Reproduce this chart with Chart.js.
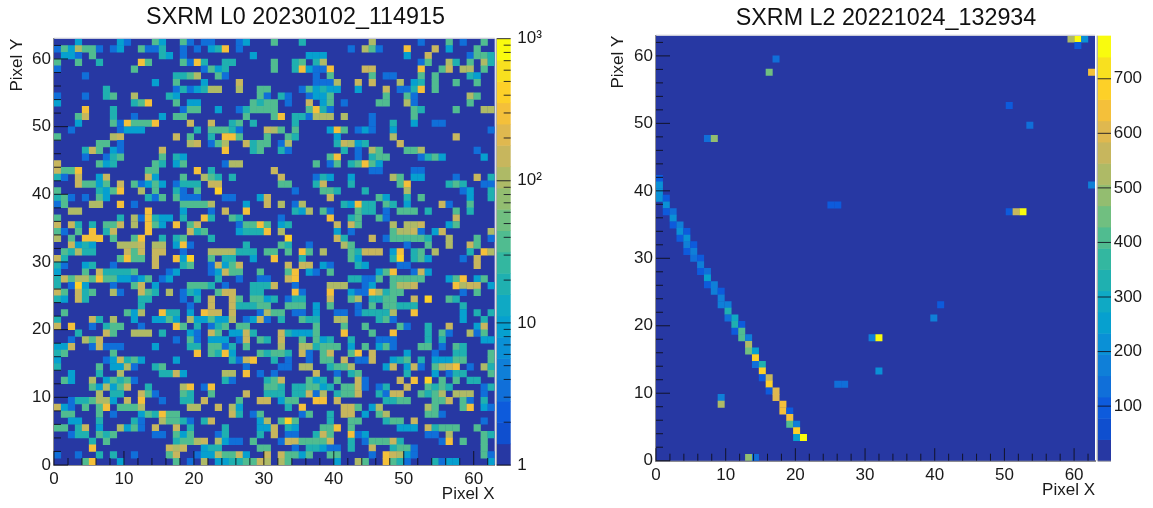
<!DOCTYPE html>
<html>
<head>
<meta charset="utf-8">
<title>SXRM</title>
<script src="https://cdn.jsdelivr.net/npm/chart.js@4"></script>
<style>
html, body { margin: 0; padding: 0; background: #fff; overflow: hidden; width: 1153px; height: 508px; }
.box { position: absolute; top: 0; height: 508px; }
canvas { filter: blur(0.35px); }
</style>
</head>
<body>
<div class="box" style="left:0;width:591px"><canvas id="chart-l0"></canvas></div>
<div class="box" style="left:600px;width:572px"><canvas id="chart-l2"></canvas></div>
<script>
const palette = ["#2738a3", "#0f4fcf", "#0d5bdc", "#106fd9", "#0f7fd8", "#0a90d6", "#06a0cf", "#0fa9c4", "#1fb0b0", "#33b7a0",
    "#50bc90", "#70bf80", "#93bd70", "#aeba66", "#c7b65d", "#dfb84f", "#f4c03a", "#fdd028", "#f8e01f", "#f9fb0e"];

const axisTicks = [0, 10, 20, 30, 40, 50, 60];
const axisMinorTicks = [2, 4, 6, 8, 12, 14, 16, 18, 22, 24, 26, 28, 32, 34, 36, 38, 42, 44, 46, 48, 52, 54, 56, 58, 62];

const l0BarTicks = [1, 10, 100, 1000];
const l0BarLabels = ["1", "10", "10²", "10³"];
const l0BarMinor = [2, 3, 4, 5, 6, 7, 8, 9, 20, 30, 40, 50, 60, 70, 80, 90, 200, 300, 400, 500, 600, 700, 800, 900];
const l2BarTicks = [100, 200, 300, 400, 500, 600, 700];
const l2Max = 779;

// counts, one letter per colour group
const l0Counts = { b: 3, c: 9, t: 20, g: 40, o: 90, a: 160, y: 320, Y: 450 };

// L0 rows from Pixel Y 62 down to 0, each token is column + colour group
const l0Rows = [
    "3c 9c 10b 14g 15c 18g 19b 21b 22b 26b 27c 31g 35t 45o 52b 56g 58b 61g",
    "0b 1g 2c 3o 4g 5g 6b 8b 9c 12g 13b 14b 15t 18b 20b 22c 23t 24y 26b 42b 44o 45g 46b 50y 54a 56c 60g",
    "1c 2c 3b 5g 15t 16c 18b 28c 36c 37c 38c 50c 53a 59b 60g 61g 62t",
    "0g 3g 6t 12y 13g 18g 19b 20y 21t 24t 25t 31g 34t 35g 37t 38o 52b 53g 56o 57t 59g 61o 62t",
    "0b 11g 21b 22g 23c 24t 31g 34t 35y 36c 37b 38b 39y 44a 45a 52y 55g 56a 58o 59o 61g",
    "4b 17t 18t 19g 20o 23g 24b 37b 39g 45g 47b 48b 52g 54g 59t 60c",
    "14c 17g 21c 26a 37b 38b 39b 40o 43a 45a 49o 51c 52t 54g 57g 60g",
    "7t 17b 18t 19b 20c 21t 22o 23o 26o 29g 30g 35b 36g 37c 38t 39c 40c 43c 47a 49b 50b 51t 52y 54g",
    "0b 4b 7t 8g 11o 16t 17c 29g 30b 32t 33b 36b 37c 38c 39g 47g 50g 51b 59o 60g",
    "0c 11t 12g 13y 17g 19c 20c 28g 29t 30g 31g 33b 36a 38c 39g 41b 46g 47g 50o 51b 59g",
    "4y 8t 18b 19g 20g 23c 26b 27t 28g 29g 30g 31g 36g 37y 38t 39b 51g 52t 57g 61o 62o",
    "3g 4a 8t 11b 15c 17g 18g 27g 31g 32y 34t 35t 36b 37o 38o 39o 41o 45b 51g",
    "3c 8g 9b 10y 11g 12g 13g 14y 19a 22a 25t 26g 28t 34t 45b 48t 51c 54b 55b",
    "2b 9b 10c 11c 12c 20t 22g 23g 24g 25t 26b 30a 31o 32g 34g 39c 40y 41g 43b 44c 45b 48c 62b",
    "0g 8o 9a 17a 19g 22t 24y 25y 26g 30g 33g 34t 40c 48o 57a",
    "6g 7g 9b 19o 20a 22b 23g 24o 27a 28t 29g 30g 32b 33o 40t 41a 42o 43c 44t 49a",
    "4t 5a 6g 8c 9b 15a 24y 28t 29g 32t 33b 41t 43b 45o 46g 50g 51g 52o 60b",
    "4b 7b 8t 9g 15g 17t 18c 39g 40y 43b 45t 46g 47g 52b 53t 54g 55c 61c",
    "0a 6g 7c 8t 14g 15t 17c 18g 24b 25o 26o 37g 39b 40g 42t 43g 44y 45g 46c",
    "0a 1g 2g 3y 13g 14g 20y 22t 31a 45b 46b 51b 52b",
    "0t 1b 3a 6c 7a 13a 14c 18g 21o 22g 23t 25t 32a 37b 38t 39c 42c 48o 49g 51c 52c 57b 60a 62t",
    "3a 4g 5g 6c 7g 9a 11g 12b 13c 14g 15c 17b 18t 19t 20t 22a 23a 32g 33g 37t 38a 42t 49g 50y 56t 57g 58t 61b 62b",
    "0g 6t 7c 8g 9y 12o 14g 17t 18b 20g 23Y 34b 38g 39g 40t 44t 50o 58b 59c 62t",
    "0t 1g 2b 4b 6g 7c 13t 14b 15g 17g 18b 19b 20b 24b 25b 29c 30a 39a 46g 47c 50t 52g 59c 62t",
    "0b 1g 5o 6o 9y 11b 18g 19g 20g 21g 22o 27c 30a 32o 34b 35o 41t 42c 43y 44t 45t 47g 48t 50c 55a 56b 59g",
    "2o 3o 13y 18c 22b 24a 27y 34t 35c 36o 38g 39b 43g 44t 45t 47b 49g 50g 51g 53t 57g 59t",
    "0g 9t 11o 12b 13y 14t 15c 16c 18t 21y 22t 25g 26t 32b 39y 42t 43g 46g 47b 57a",
    "0a 2a 3t 5t 7g 8g 9a 11o 13y 14g 15c 17y 19g 20a 26b 27g 28g 29y 30g 32c 33t 40a 42a 43g 48o 50o 51o 52a 56c 57g",
    "0g 1b 3g 5y 7t 8a 13y 19a 20t 21g 26c 27t 28t 29t 30y 32o 40c 42b 48g 49o 50o 51a 52b 54c 55a 62o",
    "0o 2g 4y 5y 6y 8g 11g 12y 15t 17t 18g 22t 33Y 40a 41t 45a 47b 48g 49g 50g 51g 52g 53t 56o 60g 62b",
    "2a 3c 4t 5c 9o 10o 11o 12a 14o 15o 17c 18y 19b 27t 32g 33t 36b 41o 42g 50b 53g 56o 59a 60g",
    "1g 2t 3o 4t 5t 10a 11g 12a 14a 15a 18b 22o 23o 24o 25o 26t 27t 28t 30g 31g 33g 35y 36g 38o 42g 43t 44a 45a 46a 48c 49y 51t 52g 54o 59t 61y 62o",
    "0a 1t 9g 10y 11g 12g 14a 17y 18c 19Y 22g 24t 25t 28c 31y 35t 42g 43c 48t 49Y 51t 52g 53c 58b 60a",
    "0t 1b 4c 5t 8b 14a 18t 19g 22b 23a 24c 25g 26a 33a 35a 36a 38c 39b 43t 44c 49b 50b 60a",
    "0c 4g 6a 7t 8t 9t 10t 11g 16b 17c 22b 23c 24a 25g 26g 29g 33g 34y 36c 37b 39g 46c 47g 48y 51b 52a 53c",
    "0t 1a 2g 3o 4o 5g 6y 7g 8g 9c 10c 11b 12c 13g 15b 16c 23t 26b 29b 30b 33a 34y 42t 43t 44b 45b 46g 48g 49g 50g 51g 52g 56c 57g 58y 60c 61g",
    "0t 2b 3Y 4c 8b 11g 12a 14c 19g 20g 21g 22t 24b 28t 29t 30t 31a 34b 39o 40o 41o 44b 45c 48g 49o 50o 51a 57y 58o 59a 60a 62c",
    "0a 1g 3a 4t 5g 8o 9b 12a 13g 14t 16o 18b 19t 20c 23g 24a 25a 28t 29t 34y 35b 39y 42c 43b 44b 45y 46o 47t 48g 49g 58b 60g",
    "0t 1c 3a 4t 12t 13t 18b 20t 22a 25a 26g 28g 29g 30c 31t 33b 34t 35t 39a 42g 43o 45t 46t 47g 48g 51a 53Y 56g 57t",
    "12t 19b 22a 25a 26t 27t 28t 29g 30g 33g 34g 35g 37c 39g 43b 45g 47g 48g 49t 50t 51t 58t",
    "1g 10g 11c 12o 15y 16t 17t 19c 21y 22a 23a 25a 29b 30o 31g 32g 34b 35b 37c 40b 41b 43b 44t 45t 46t 47t 48o 51y 58c 60t 62t",
    "0t 5a 6t 8o 11c 14c 15c 16g 17c 19o 20c 21c 22g 23c 24c 25o 27b 28c 29a 30b 32t 35g 36t 37t 40o 41o 46t 47g 48b 58c 61t",
    "0a 2y 5b 7t 8g 9g 12b 17y 18g 20t 22b 23t 24g 26g 27g 37g 41g 44g 49g 50b 53t 56a 60c 61a",
    "3t 7a 8g 11o 12o 13o 15t 19c 20b 22a 23g 25c 26c 27a 28t 32a 33t 34c 35c 36c 37g 41y 45g 48y 53t 55g 56b 59o 60b 61g",
    "2b 4o 5g 6a 17b 19g 20b 22c 23c 24c 26b 27a 29g 30t 32a 35g 37g 38c 39t 42t 46b 47b 48b 53t 55t 61c 62c",
    "0c 1c 2a 5b 6a 7b 8b 9b 14c 19t 20t 22g 23g 24b 25t 27g 32o 35o 36o 37t 38g 39g 40g 42c 44g 46c 47g 48b 52g 53g 55b 57g 58t",
    "0t 1g 8g 20y 22g 23t 24y 25c 29g 30t 31g 32g 33t 35a 36b 38g 39a 42g 43y 45a 50c 54b 57t 58t 62g",
    "0c 7b 8c 9a 10t 11g 12c 17c 25t 26b 27a 28y 31t 33b 36b 38g 39g 41a 43b 44b 45a 48c 49t 50g 52t 54c 55c 56c 57g 58g 62g",
    "0t 6g 8c 9c 10o 11b 14t 15g 27b 32b 33b 35o 36o 39t 40g 41g 42o 47c 48a 50c 51a 52b 54g 55o 56a 57y 59b 61o 62t",
    "2c 6t 9o 15t 16t 17a 18c 24o 25o 27y 29b 31b 37a 40b 42t 43g 50t 54c 56b 57t 58t 62g",
    "1g 2c 5o 7c 8g 9t 10g 11b 24t 25b 30t 31g 32a 36g 37c 38t 40g 43a 44b 49a 51y 53Y 55g 57g 59t 60t",
    "5g 6c 7o 8c 9g 10a 13t 18o 19y 21b 22y 30g 31g 32t 34t 35t 36g 37g 38c 39t 41g 42g 43a 44b 46b 47t 50a 53g 54t 55g 56t 61b 62t",
    "6o 8t 9t 12a 13g 14b 18g 19t 22g 27a 30t 31t 32t 34t 35t 36a 37b 38o 40t 41g 42g 43a 46t 47b 48a 49a 52g 53t 54g 55o 57o 58o 59o 61b",
    "2b 3t 4t 5g 6o 7o 8c 10a 12y 15b 18t 19t 21a 26g 29a 30a 32c 33g 34g 37y 38y 40a 47t 48t 49g 50g 54g 55g 56a 58g 59b 61t",
    "0a 1c 2b 4g 6g 7y 9g 10g 11g 12o 19o 20o 23a 25o 26c 33t 35y 41a 42a 43g 45c 46o 53o 54g 58g 59y 61c 62b",
    "1g 2g 6g 8b 12c 13g 14t 15y 16g 17g 25a 26t 28b 29g 35b 36g 39t 41a 42a 44c 46g 47o 53g 54g 55b",
    "2c 3c 6t 11t 12b 15o 16g 17g 18t 19b 21t 22a 29c 30o 32g 33Y 34g 39t 42g 43g 47t 48g 49g 51a 61b",
    "0g 1g 3t 4a 6c 9o 10c 11g 12b 14a 17a 19t 24t 29c 30c 31a 33t 34c 38g 39g 40y 42g 49c 50c 51c 53a 54t 55g 56g 57g 60g",
    "2b 3t 4t 6g 7t 8g 14b 15b 17g 18c 19g 23b 24t 29t 31a 33b 34b 37t 38a 39g 42y 43b 44c 53b 54b 56o 61g 62t",
    "5t 7g 17t 18g 19g 20o 21a 23o 24c 25b 26b 28g 32b 33a 34a 35g 36g 37g 38g 39a 42t 44b 45g 46g 47g 48a 49t 55b 56y 58g 61g",
    "5y 16a 17o 18a 21c 22t 23t 29g 30g 34b 36t 37t 38c 39b 40b 42t 45a 48t 49g 50g 51b 61g",
    "0b 3b 6t 8t 11b 16g 17a 20b 21c 22c 23o 24g 25g 26a 27c 30a 32a 33g 34g 35c 36g 39g 40g 45b 47y 48a 49o 50c 51b 61g 62b",
    "4g 5y 9c 17g 19b 21o 23c 24c 25t 26t 27g 28g 29a 30o 32o 33g 40c 43o 44g 47y 48g 49t 50b 54t 55b 56c 57c 62c"
];

// L2 has 64 bins spread over the 0-63 axis
const l2BinX = [0, 0, 0, 0, 1, 1, 1, 2, 2, 2, 3, 3, 3, 4, 4, 4, 4, 5, 5, 5, 6, 6, 6, 7, 7, 7, 8, 8, 9, 9, 9, 10, 10, 10, 11, 11, 11, 12, 12, 12, 13, 13, 13,
    14, 14, 14, 15, 15, 15, 16, 16, 16, 17, 17, 18, 18, 19, 19, 19, 20, 20, 20, 21,
    9, 9, 26, 27, 31, 32, 32, 13, 14, 17, 16, 7, 8, 25, 26, 60, 61, 62, 61, 63, 51, 54, 63, 51, 52, 53, 41, 40];
const l2BinY = [42, 41, 40, 39, 39, 38, 37, 37, 36, 35, 35, 34, 33, 34, 33, 32, 31, 32, 31, 30, 30, 29, 28, 28, 27, 26, 26, 25, 25, 24, 23, 23, 22, 21, 21, 20, 19, 20, 19, 18, 18, 17, 16,
    16, 15, 14, 14, 13, 12, 12, 11, 10, 10, 9, 8, 7, 7, 6, 5, 5, 4, 3, 3,
    9, 8, 11, 11, 18, 18, 13, 0, 0, 60, 58, 48, 48, 38, 38, 63, 63, 63, 62, 58, 53, 50, 41, 37, 37, 37, 23, 21];
const l2Values = [90, 230, 230, 210, 100, 200, 110, 120, 220, 100, 170, 210, 110, 110, 210, 190, 110, 90, 180, 150, 90, 170, 110, 150, 270, 100, 170, 170, 90, 170, 170, 170, 330, 120, 280, 340, 80, 80, 410, 410, 170, 520, 430,
    260, 680, 150, 340, 680, 90, 570, 700, 80, 600, 610, 640, 640, 80, 650, 410, 170, 680, 240, 779,
    180, 530, 140, 140, 170, 770, 210, 490, 130, 150, 460, 150, 480, 100, 100, 530, 779, 210, 90, 660, 90, 120, 190, 90, 560, 779, 90, 170];

function l0Level(count) {
    return Math.min(19, Math.floor(Math.log10(count) * 20 / 3));
}

function l2Level(count) {
    return Math.min(19, Math.floor(count / (l2Max / 20)));
}

function l0Points() {
    const points = [];
    l0Rows.forEach((row, i) => {
        row.split(" ").forEach(token => {
            points.push({ x: parseInt(token) + 0.5, y: 62 - i + 0.5, v: l0Counts[token.slice(-1)] });
        });
    });
    return points;
}

function l2Points() {
    const bin = 63 / 64;
    return l2BinX.map((x, i) => ({ x: (x + 0.5) * bin, y: (l2BinY[i] + 0.5) * bin, v: l2Values[i] }));
}

const rootFrame = {
    id: "rootFrame",
    beforeDatasetsDraw(chart) {
        const a = chart.chartArea;
        chart.ctx.fillStyle = palette[0];
        chart.ctx.fillRect(a.left, a.top, a.right - a.left, a.bottom - a.top);
    },
    afterDraw(chart, args, opts) {
        const ctx = chart.ctx;
        const a = chart.chartArea;
        const xs = chart.scales.x;
        const ys = chart.scales.y;
        const bar = chart.scales.bar;

        // ROOT draws its tick marks on the inside of the frame
        ctx.strokeStyle = "rgba(15,15,30,0.9)";
        ctx.lineWidth = 1;
        ctx.beginPath();
        axisTicks.forEach(v => {
            ctx.moveTo(xs.getPixelForValue(v), a.bottom);
            ctx.lineTo(xs.getPixelForValue(v), a.bottom - opts.xTick);
            ctx.moveTo(a.left, ys.getPixelForValue(v));
            ctx.lineTo(a.left + 14, ys.getPixelForValue(v));
        });
        axisMinorTicks.forEach(v => {
            ctx.moveTo(xs.getPixelForValue(v), a.bottom);
            ctx.lineTo(xs.getPixelForValue(v), a.bottom - 7);
            ctx.moveTo(a.left, ys.getPixelForValue(v));
            ctx.lineTo(a.left + 7, ys.getPixelForValue(v));
        });
        ctx.stroke();

        ctx.fillStyle = "#d4d4d8";
        ctx.fillRect(a.left, a.top - 1, a.right - a.left, 1);

        // colour bar
        const left = a.right + opts.barGap;
        const width = opts.barWidth;
        opts.barEdges.forEach((edge, i) => {
            if (i === 0) return;
            const y0 = bar.getPixelForValue(opts.barEdges[i - 1]);
            const y1 = bar.getPixelForValue(edge);
            ctx.fillStyle = palette[i - 1];
            ctx.fillRect(left, y1, width, y0 - y1 + 0.5);
        });
        ctx.fillStyle = "#9a9aa0";
        ctx.fillRect(left - 1, a.top, 1, a.bottom - a.top);
        ctx.fillRect(left, a.bottom, width, 1);

        ctx.strokeStyle = "rgba(15,15,30,0.85)";
        ctx.beginPath();
        opts.barTicks.forEach(v => {
            ctx.moveTo(left + width, bar.getPixelForValue(v));
            ctx.lineTo(left, bar.getPixelForValue(v));
        });
        opts.barMinor.forEach(v => {
            ctx.moveTo(left + width, bar.getPixelForValue(v));
            ctx.lineTo(left + width - 7, bar.getPixelForValue(v));
        });
        ctx.stroke();
    }
};

function drawHeatmap(id, cfg) {
    const canvas = document.getElementById(id);
    canvas.width = cfg.width;
    canvas.height = 508;
    const textFont = { family: "'Liberation Sans', Arial, sans-serif", size: 17 };

    return new Chart(canvas.getContext("2d"), {
        type: "scatter",
        data: {
            datasets: [{
                label: cfg.title,
                data: cfg.points,
                pointStyle: "rect",
                pointRadius: cfg.pointRadius,
                pointBorderWidth: 0,
                pointBackgroundColor: c => palette[cfg.level(c.raw.v)]
            }]
        },
        plugins: [rootFrame],
        options: {
            responsive: false,
            animation: false,
            events: [],
            layout: { padding: 0 },
            plugins: {
                legend: { display: false },
                tooltip: { enabled: false },
                title: {
                    display: true,
                    text: cfg.title,
                    color: "#111",
                    font: { family: textFont.family, size: 23.3, weight: "normal", lineHeight: 1.2 },
                    padding: cfg.titlePadding
                },
                rootFrame: {
                    xTick: cfg.xTick,
                    barGap: cfg.barGap,
                    barWidth: cfg.barWidth,
                    barEdges: cfg.barEdges,
                    barTicks: cfg.barTicks,
                    barMinor: cfg.barMinor
                }
            },
            scales: {
                x: {
                    type: "linear",
                    min: 0,
                    max: 63,
                    grid: { display: false, drawTicks: false },
                    border: { display: true, color: "#8c8c92", width: 2 },
                    afterBuildTicks: s => { s.ticks = axisTicks.map(value => ({ value })); },
                    afterFit: s => { s.height = cfg.xHeight; },
                    ticks: { color: "#1a1a1a", font: textFont, padding: 4, maxRotation: 0, autoSkip: false },
                    title: { display: true, text: "Pixel X", align: "end", color: "#1a1a1a", font: textFont, padding: { top: 0, bottom: cfg.xTitlePad } }
                },
                y: {
                    type: "linear",
                    position: "left",
                    min: 0,
                    max: 63,
                    grid: { display: false, drawTicks: false },
                    border: { display: true, color: "#8c8c92", width: 2 },
                    afterBuildTicks: s => { s.ticks = axisTicks.map(value => ({ value })); },
                    afterFit: s => { s.width = cfg.yWidth; },
                    ticks: { color: "#1a1a1a", font: textFont, padding: 3, autoSkip: false },
                    title: { display: true, text: "Pixel Y", align: "end", color: "#1a1a1a", font: textFont, padding: { top: cfg.yTitlePad, bottom: 0 } }
                },
                bar: {
                    axis: "y",
                    type: cfg.barType,
                    position: "right",
                    min: cfg.barEdges[0],
                    max: cfg.barEdges[20],
                    grid: { display: false, drawTicks: false },
                    border: { display: false },
                    afterBuildTicks: s => { s.ticks = cfg.barTicks.map(value => ({ value })); },
                    afterFit: s => { s.width = cfg.barAxisWidth; },
                    ticks: {
                        color: "#1a1a1a",
                        font: textFont,
                        padding: cfg.barLabelPad,
                        autoSkip: false,
                        callback: cfg.barLabel
                    }
                }
            }
        }
    });
}

const l0BarEdges = palette.map((c, i) => Math.pow(10, i * 3 / 20)).concat([1000]);
const l2BarEdges = palette.map((c, i) => i * l2Max / 20).concat([l2Max]);

drawHeatmap("chart-l0", {
    width: 591,
    title: "SXRM L0 20230102_114915",
    titlePadding: { top: 3.5, bottom: 7.2 },
    points: l0Points(),
    pointRadius: 5.1,
    level: l0Level,
    xTick: 14,
    xHeight: 43,
    xTitlePad: 3,
    yWidth: 54,
    yTitlePad: 6.7,
    barType: "logarithmic",
    barAxisWidth: 96.3,
    barGap: 2,
    barWidth: 14,
    barLabelPad: 22.6,
    barEdges: l0BarEdges,
    barTicks: l0BarTicks,
    barMinor: l0BarMinor,
    barLabel: value => l0BarLabels[l0BarTicks.indexOf(value)]
});

drawHeatmap("chart-l2", {
    width: 572,
    title: "SXRM L2 20221024_132934",
    titlePadding: { top: 4.3, bottom: 3.4 },
    points: l2Points(),
    pointRadius: 4.95,
    level: l2Level,
    xTick: 12.5,
    xHeight: 47.3,
    xTitlePad: 7.3,
    yWidth: 56,
    yTitlePad: 8.3,
    barType: "linear",
    barAxisWidth: 77,
    barGap: 2.7,
    barWidth: 13.3,
    barLabelPad: 18.7,
    barEdges: l2BarEdges,
    barTicks: l2BarTicks,
    barMinor: [],
    barLabel: value => String(value)
});
</script>
</body>
</html>
